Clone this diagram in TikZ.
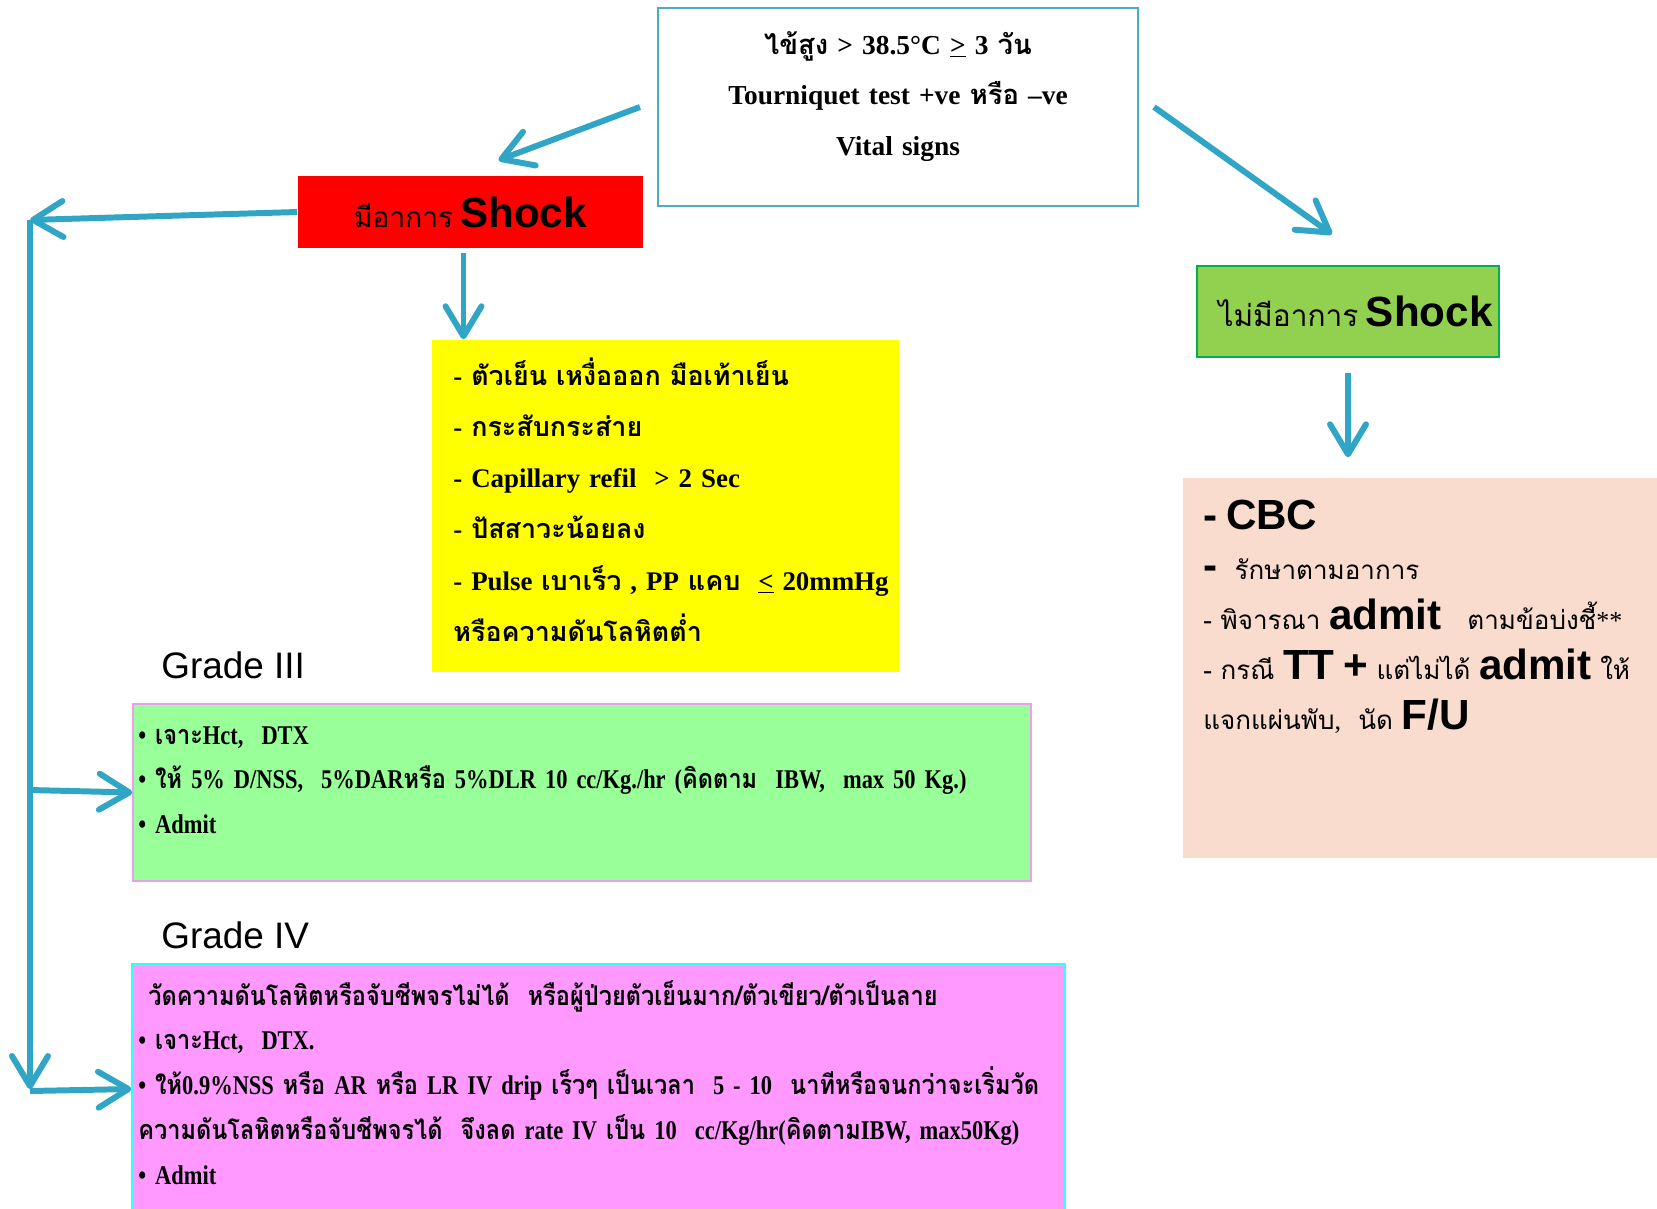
\documentclass[tikz,border=0pt]{standalone}
\usepackage{fontspec}
\setmainfont{Liberation Serif}
\setsansfont{Liberation Sans}
\newfontfamily\thaifont[Script=Thai]{Loma}
\newfontfamily\narrowserif[FakeStretch=0.83]{Liberation Serif}
\newfontfamily\narrowthai[Script=Thai,FakeStretch=0.87]{Loma}
\newcommand\tha[1]{{\thaifont #1}}
\newcommand\arial[1]{{\sffamily\bfseries\fontsize{24}{28}\selectfont #1}}
\usetikzlibrary{arrows.meta,calc}
\definecolor{flowblue}{HTML}{31A5C5}
\definecolor{frameblue}{HTML}{4BACC6}
\definecolor{alarmred}{HTML}{FF0000}
\definecolor{signyellow}{HTML}{FFFF00}
\definecolor{safegreen}{HTML}{92D050}
\definecolor{safeedge}{HTML}{00B050}
\definecolor{peach}{HTML}{F9DCCD}
\definecolor{mintgreen}{HTML}{99FF99}
\definecolor{mintedge}{HTML}{F09CF0}
\definecolor{orchid}{HTML}{FF99FF}
\definecolor{orchidedge}{HTML}{33FFFF}
\tikzset{
  box/.style={rectangle, inner sep=0pt, line width=0.9pt},
  boxtext/.style={inner sep=0pt, align=left, anchor=base west},
  narrow/.style={font={\narrowserif\let\thaifont\narrowthai\bfseries\fontsize{15.4}{25.6}\selectfont}},
  gradelabel/.style={inner sep=0pt, anchor=base west, font=\sffamily\fontsize{21}{24}\selectfont},
  arrow/.style={-{Straight Barb[length=6mm,width=7.2mm,round]}, line width=3.4pt, draw=flowblue}
}

\begin{document}
\begin{tikzpicture}[x=0.02cm, y=-0.02cm]
  \fill[white] (0,0) rectangle (1657,1208);
  \useasboundingbox (0,0) rectangle (1657,1208);

  % boxes
  \node[box, draw=frameblue, line width=1.2pt, minimum width=9.6cm, minimum height=3.96cm] (fever) at (898,107) {};
  \node[box, fill=alarmred, minimum width=6.9cm, minimum height=1.44cm, font=\fontsize{16}{20}\selectfont] (shock) at (470.5,212) {\tha{มีอาการ} \arial{Shock}};
  \node[box, fill=safegreen, draw=safeedge, minimum width=6.04cm, minimum height=1.82cm, font=\fontsize{17}{20}\selectfont] (safe) at (1348,311.5) {\hspace{0.3cm}\tha{ไม่มีอาการ} \arial{Shock}};
  \node[box, fill=signyellow, minimum width=9.34cm, minimum height=6.64cm] (signs) at (665.5,506) {};
  \node[box, fill=peach, minimum width=9.48cm, minimum height=7.6cm] (plan) at (1420,668) {};
  \node[box, fill=mintgreen, draw=mintedge, minimum width=17.96cm, minimum height=3.54cm] (gradethree) at (582,792.5) {};
  \node[box, fill=orchid, draw=orchidedge, minimum width=18.66cm, minimum height=5cm] (gradefour) at (598.5,1089) {};

  % texts
  \node[inner sep=0pt, anchor=base, align=center, text width=9cm, font=\bfseries\fontsize{15.6}{29}\selectfont] (fevertext) at (898,54)
    {\tha{ไข้สูง} > 38.5°C \underline{>} 3 \tha{วัน}\\
     Tourniquet test +ve \tha{หรือ} –ve\\
     Vital signs};
  \node[boxtext, text width=10cm, font=\bfseries\fontsize{15.3}{29.2}\selectfont] (signstext) at (453,385)
    {- \tha{ตัวเย็น เหงื่อออก มือเท้าเย็น}\\
     - \tha{กระสับกระส่าย}\\
     - Capillary refil \ > 2 Sec\\
     - \tha{ปัสสาวะน้อยลง}\\
     - Pulse \tha{เบาเร็ว} , PP \tha{แคบ} \ \underline{<} 20mmHg\\
     \tha{หรือความดันโลหิตต่ำ}};
  \node[boxtext, text width=9.5cm, font=\fontsize{14.8}{28.5}\selectfont] (plantext) at (1203,529)
    {\arial{- CBC}\\
     \arial{-} \ \tha{รักษาตามอาการ}\\
     \tha{-} \tha{พิจารณา} \arial{admit} \ \ \tha{ตามข้อบ่งชี้}**\\
     \tha{-} \tha{กรณี} \arial{TT +} \tha{แต่ไม่ได้} \arial{admit} \tha{ให้}\\
     \tha{แจกแผ่นพับ}, \ \tha{นัด} \arial{F/U}};
  \node[gradelabel] (labelthree) at (161,678) {Grade III};
  \node[gradelabel] (labelfour) at (161,948) {Grade IV};
  \node[boxtext, narrow, text width=17.5cm] (threetext) at (138,744)
    {• \tha{เจาะ}Hct, \ DTX\\
     • \tha{ให้} 5\% D/NSS, \ 5\%DAR\tha{หรือ} 5\%DLR 10 cc/Kg./hr (\tha{คิดตาม} \ IBW, \ max 50 Kg.)\\
     • Admit};
  \node[boxtext, narrow, text width=18.4cm] (fourtext) at (138,1005)
    {\hspace{0.2cm}\tha{วัดความดันโลหิตหรือจับชีพจรไม่ได้} \ \tha{หรือผู้ป่วยตัวเย็นมาก/ตัวเขียว/ตัวเป็นลาย}\\
     • \tha{เจาะ}Hct, \ DTX.\\
     • \tha{ให้}0.9\%NSS \tha{หรือ} AR \tha{หรือ} LR IV drip \tha{เร็วๆ เป็นเวลา} \ 5 - 10 \ \tha{นาทีหรือจนกว่าจะเริ่มวัด}\\
     \tha{ความดันโลหิตหรือจับชีพจรได้} \ \tha{จึงลด} rate IV \tha{เป็น} 10 \ cc/Kg/hr(\tha{คิดตาม}IBW, max50Kg)\\
     • Admit};

  % connectors
  \coordinate (corner) at (30,220);
  \coordinate (foot) at (30,1089);
  \coordinate (tapthree) at (30,790);
  \coordinate (tapfour) at (30,1091);
  \draw[arrow] ($(fever.west)+(-17,0)$) -- ($(shock.north)+(28,-15)$);
  \draw[arrow] ($(fever.east)+(15,0)$) -- ($(safe.north)+(-16,-31)$);
  \draw[arrow] ($(shock.south)+(-7,4)$) coordinate (drop) -- (drop |- signs.north);
  \draw[arrow] ($(safe.south)+(0,15)$) -- ($(safe.south |- plan.north)+(0,-20)$);
  \draw[arrow] (shock.west) -- (corner);
  \draw[arrow] (corner) -- (foot);
  \draw[arrow] (tapthree) -- (gradethree.west);
  \draw[arrow] (tapfour) -- (gradefour.west);
\end{tikzpicture}
\end{document}
